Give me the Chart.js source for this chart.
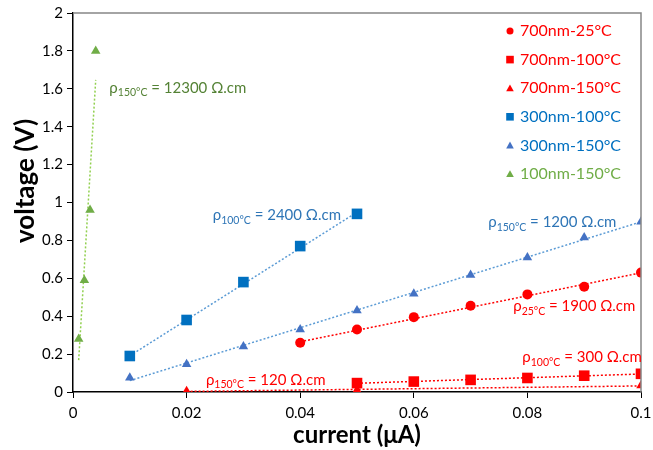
<!DOCTYPE html>
<html>
<head>
<meta charset="utf-8">
<script src="https://cdn.jsdelivr.net/npm/chart.js@4/dist/chart.umd.min.js"></script>
<style>
html, body { margin: 0; padding: 0; background: #fff; }
#wrap { width: 653px; height: 450px; }
</style>
</head>
<body>
<div id="wrap"><canvas id="myChart" width="653" height="450"></canvas></div>
<script>
// measured points (current in uA, voltage in V)
const x700_25 = [0.04, 0.05, 0.06, 0.07, 0.08, 0.09, 0.1];
const v700_25 = [0.26, 0.33, 0.395, 0.455, 0.515, 0.555, 0.63];
const x700_100 = [0.05, 0.06, 0.07, 0.08, 0.09, 0.1];
const v700_100 = [0.047, 0.055, 0.064, 0.074, 0.086, 0.096];
const x700_150 = [0.02, 0.05, 0.1];
const v700_150 = [0.004, 0.01, 0.034];
const x300_100 = [0.01, 0.02, 0.03, 0.04, 0.05];
const v300_100 = [0.19, 0.38, 0.58, 0.77, 0.94];
const x300_150 = [0.01, 0.02, 0.03, 0.04, 0.05, 0.06, 0.07, 0.08, 0.09, 0.1];
const v300_150 = [0.075, 0.147, 0.24, 0.33, 0.43, 0.518, 0.618, 0.71, 0.815, 0.898];
const x100_150 = [0.001, 0.002, 0.003, 0.004];
const v100_150 = [0.28, 0.59, 0.96, 1.8];

// linear trendline ends
const tx700_25 = [0.04, 0.1];
const tv700_25 = [0.265, 0.629];
const tx700_100 = [0.05, 0.1];
const tv700_100 = [0.046, 0.095];
const tx700_150 = [0.02, 0.1];
const tv700_150 = [0.003, 0.032];
const tx300_100 = [0.01, 0.05];
const tv300_100 = [0.191, 0.949];
const tx300_150 = [0.01, 0.1];
const tv300_150 = [0.06, 0.898];
const tx100_150 = [0.001, 0.004];
const tv100_150 = [0.168, 1.647];

const seriesNames = ['700nm-25°C', '700nm-100°C', '700nm-150°C', '300nm-100°C', '300nm-150°C', '100nm-150°C'];
const xTicks = [0, 0.02, 0.04, 0.06, 0.08, 0.1];
const yTitle = 'voltage (V)';
const xTitle = 'current (μA)';

// resistivity notes: subscript + value text
const noteSubs = ['150°C', '100°C', '150°C', '25°C', '100°C', '150°C'];
const noteVals = [' = 12300 Ω.cm', ' = 2400 Ω.cm', ' = 1200 Ω.cm', ' = 1900 Ω.cm', ' = 300 Ω.cm', ' = 120 Ω.cm'];

const RED = '#ff0000', BLUE = '#0070c0', BLUE2 = '#4472c4', GREEN = '#70ad47';
const FONT = 'Lato, "Liberation Sans", sans-serif';

function pts(xs, ys) { return xs.map((x, i) => ({x: x, y: ys[i]})); }

function markers(i, xs, ys, color, style, r) {
    return {
        label: seriesNames[i], data: pts(xs, ys), showLine: false,
        pointStyle: style, pointRadius: r, pointHoverRadius: r,
        backgroundColor: color, borderColor: color, borderWidth: 0, order: 1
    };
}
function trend(xs, ys, color) {
    return {
        label: '', data: pts(xs, ys), showLine: true, pointRadius: 0,
        borderColor: color, borderWidth: 1.5, borderDash: [2, 2], fill: false, order: 2
    };
}

const noteStyle = [
    {x: 0.0064, y: 1.605, color: '#548235'},
    {x: 0.0246, y: 0.932, color: '#2e75b6'},
    {x: 0.0731, y: 0.895, color: '#2e75b6'},
    {x: 0.0775, y: 0.453, color: RED},
    {x: 0.0791, y: 0.184, color: RED},
    {x: 0.0234, y: 0.063, color: RED}
];
const legendColors = [RED, RED, RED, BLUE, BLUE, GREEN];

function drawMark(ctx, style, x, y, r, color) {
    ctx.fillStyle = color;
    ctx.beginPath();
    if (style === 'circle') {
        ctx.arc(x, y, r, 0, Math.PI * 2);
    } else if (style === 'rect') {
        ctx.rect(x - r, y - r, 2 * r, 2 * r);
    } else {
        ctx.moveTo(x, y - r);
        ctx.lineTo(x + r, y + r * 0.8);
        ctx.lineTo(x - r, y + r * 0.8);
        ctx.closePath();
    }
    ctx.fill();
}

const extras = {
    id: 'extras',
    afterDatasetsDraw(chart) {
        const ctx = chart.ctx, a = chart.chartArea;
        const xs = chart.scales.x, ys = chart.scales.y;
        ctx.save();
        // frame top + right
        ctx.strokeStyle = '#868686';
        ctx.lineWidth = 1.5;
        ctx.beginPath();
        ctx.moveTo(a.left, a.top);
        ctx.lineTo(a.right, a.top);
        ctx.lineTo(a.right, a.bottom);
        ctx.stroke();

        // y title (sits a bit above the axis middle, like the original)
        ctx.save();
        ctx.translate(26, 181);
        ctx.rotate(-Math.PI / 2);
        ctx.font = 'bold 26px ' + FONT;
        ctx.fillStyle = '#000';
        ctx.textAlign = 'center';
        ctx.textBaseline = 'middle';
        ctx.fillText(yTitle, 0, 0);
        ctx.restore();

        // notes
        ctx.textBaseline = 'middle';
        ctx.textAlign = 'left';
        noteStyle.forEach((n, i) => {
            let px = xs.getPixelForValue(n.x);
            const py = ys.getPixelForValue(n.y);
            ctx.fillStyle = n.color;
            ctx.font = '15px ' + FONT;
            ctx.fillText('ρ', px, py);
            px += ctx.measureText('ρ').width;
            ctx.font = '10.5px ' + FONT;
            ctx.fillText(noteSubs[i], px, py + 5);
            px += ctx.measureText(noteSubs[i]).width;
            ctx.font = '15px ' + FONT;
            ctx.fillText(noteVals[i], px, py);
        });

        // legend
        const marks = chart.data.datasets.filter(d => d.label);
        ctx.font = '16px ' + FONT;
        marks.forEach((d, i) => {
            const y = 31 + i * 28.6;
            const r = d.pointStyle === 'circle' ? 3.5 : 3.8;
            drawMark(ctx, d.pointStyle, 510, y, r, d.backgroundColor);
            ctx.fillStyle = legendColors[i];
            ctx.fillText(d.label, 520, y);
        });
        ctx.restore();
    }
};

const ctx = document.getElementById('myChart').getContext('2d');
const myChart = new Chart(ctx, {
    type: 'scatter',
    data: {
        datasets: [
            markers(0, x700_25, v700_25, RED, 'circle', 5),
            markers(1, x700_100, v700_100, RED, 'rect', 7.5),
            markers(2, x700_150, v700_150, RED, 'triangle', 5.5),
            markers(3, x300_100, v300_100, BLUE, 'rect', 7.5),
            markers(4, x300_150, v300_150, BLUE2, 'triangle', 5.5),
            markers(5, x100_150, v100_150, GREEN, 'triangle', 5.5),
            trend(tx700_25, tv700_25, RED),
            trend(tx700_100, tv700_100, RED),
            trend(tx700_150, tv700_150, RED),
            trend(tx300_100, tv300_100, '#5b9bd5'),
            trend(tx300_150, tv300_150, '#5b9bd5'),
            trend(tx100_150, tv100_150, '#92d050')
        ]
    },
    options: {
        responsive: false,
        animation: false,
        layout: {padding: {top: 11, right: 12, left: 0, bottom: 0}},
        plugins: {legend: {display: false}, tooltip: {enabled: false}},
        scales: {
            x: {
                type: 'linear', min: 0, max: 0.1,
                afterBuildTicks: s => { s.ticks = xTicks.map(v => ({value: v})); },
                afterFit: s => { s.height = 58; s.paddingRight = 0; s.paddingLeft = 0; },
                grid: {drawOnChartArea: false, drawTicks: true, tickLength: 6, color: '#000'},
                border: {color: '#000', width: 1.5},
                ticks: {color: '#000', font: {family: FONT, size: 15}, padding: 6,
                    callback: v => String(+v.toFixed(2))},
                title: {display: true, text: xTitle, color: '#000',
                    font: {family: FONT, size: 24, weight: 'bold'}, padding: {top: 0, bottom: 0}}
            },
            y: {
                type: 'linear', min: 0, max: 2,
                afterFit: s => { s.width = 73; },
                grid: {drawOnChartArea: false, drawTicks: true, tickLength: 6, color: '#000'},
                border: {color: '#000', width: 1.5},
                ticks: {stepSize: 0.2, color: '#000', font: {family: FONT, size: 15}, padding: 4,
                    callback: v => String(+v.toFixed(1))}
            }
        }
    },
    plugins: [extras]
});
</script>
</body>
</html>
